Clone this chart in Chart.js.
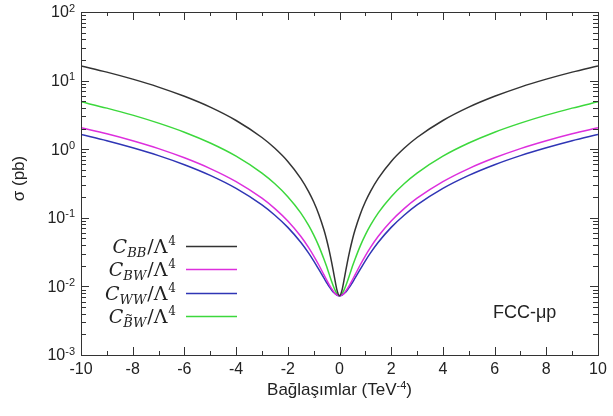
<!DOCTYPE html>
<html>
<head>
<meta charset="utf-8">
<script src="https://cdn.jsdelivr.net/npm/chart.js@4/dist/chart.umd.min.js"></script>
<style>
  html, body { margin: 0; padding: 0; background: #fff; }
  #wrap { width: 613px; height: 416px; position: relative; }
</style>
</head>
<body>
<div id="wrap"><canvas id="cv"></canvas></div>
<script>
'use strict';

// coupling values (TeV^-4)
const XS = [-10,-9,-8,-7,-6,-5,-4,-3,-2.5,-2,-1.5,-1.2,-1,-0.8,-0.6,-0.5,-0.4,-0.3,-0.2,-0.1,
  0,
  0.1,0.2,0.3,0.4,0.5,0.6,0.8,1,1.2,1.5,2,2.5,3,4,5,6,7,8,9,10];

// cross sections (pb)
const C_BB  = [16.4,13.3,10.5,8.04,5.90,4.10,2.62,1.48,1.03,0.663,0.376,0.243,0.171,0.112,0.0663,0.0483,0.0335,0.0221,0.0139,0.0089,
  0.0073,
  0.0089,0.0139,0.0221,0.0335,0.0483,0.0663,0.112,0.171,0.243,0.376,0.663,1.03,1.48,2.62,4.10,5.90,8.04,10.5,13.3,16.4];
const C_BW  = [2.06,1.68,1.33,1.02,0.749,0.522,0.337,0.193,0.136,0.0897,0.0537,0.0370,0.0279,0.0205,0.0147,0.0125,0.0106,0.0092,0.0081,0.0075,
  0.0073,
  0.0075,0.0081,0.0092,0.0106,0.0125,0.0147,0.0205,0.0279,0.0370,0.0537,0.0897,0.136,0.193,0.337,0.522,0.749,1.02,1.33,1.68,2.06];
const C_WW  = [1.64,1.33,1.05,0.806,0.594,0.415,0.268,0.154,0.109,0.0725,0.0440,0.0308,0.0236,0.0177,0.0132,0.0114,0.0099,0.0088,0.0080,0.0075,
  0.0073,
  0.0075,0.0080,0.0088,0.0099,0.0114,0.0132,0.0177,0.0236,0.0308,0.0440,0.0725,0.109,0.154,0.268,0.415,0.594,0.806,1.05,1.33,1.64];
const C_BtW = [4.90,3.97,3.14,2.40,1.77,1.23,0.791,0.448,0.313,0.203,0.118,0.0779,0.0563,0.0387,0.0249,0.0196,0.0151,0.0117,0.0093,0.0078,
  0.0073,
  0.0078,0.0093,0.0117,0.0151,0.0196,0.0249,0.0387,0.0563,0.0779,0.118,0.203,0.313,0.448,0.791,1.23,1.77,2.40,3.14,3.97,4.90];

const X_TICKS = [-10,-8,-6,-4,-2,0,2,4,6,8,10];
const X_MINOR = [-9,-7,-5,-3,-1,1,3,5,7,9];
const Y_DECADES = [-3,-2,-1,0,1,2];

const SERIES = [
  { sub: 'BB', tilde: false, data: C_BB,  color: '#333333' },
  { sub: 'BW', tilde: false, data: C_BW,  color: '#dd2fdd' },
  { sub: 'WW', tilde: false, data: C_WW,  color: '#2f35b5' },
  { sub: 'BW', tilde: true,  data: C_BtW, color: '#3cd83c' },
];

const SANS = '"Liberation Sans", Arial, sans-serif';
const SERIF = '"DejaVu Serif", "Liberation Serif", serif';

/* ── frame, ticks, labels, legend ───────────────── */
const framePlugin = {
  id: 'frame',
  afterDraw(chart) {
    const { ctx, chartArea: a, scales: { x, y } } = chart;
    ctx.save();
    ctx.strokeStyle = '#333';
    ctx.lineWidth = 1;
    ctx.strokeRect(a.left + 0.5, a.top + 0.5, a.right - a.left, a.bottom - a.top);

    ctx.beginPath();
    const xt = (v, len) => {
      const px = Math.round(x.getPixelForValue(v)) + 0.5;
      ctx.moveTo(px, a.bottom); ctx.lineTo(px, a.bottom - len);
      ctx.moveTo(px, a.top);    ctx.lineTo(px, a.top + len);
    };
    X_TICKS.forEach(v => xt(v, 8));
    X_MINOR.forEach(v => xt(v, 4));
    const yt = (v, len) => {
      const py = Math.round(y.getPixelForValue(v)) + 0.5;
      ctx.moveTo(a.left, py);  ctx.lineTo(a.left + len, py);
      ctx.moveTo(a.right, py); ctx.lineTo(a.right - len, py);
    };
    Y_DECADES.forEach(d => {
      yt(Math.pow(10, d), 8);
      if (d < 2) for (let m = 2; m <= 9; m++) yt(m * Math.pow(10, d), 5);
    });
    ctx.stroke();

    // x tick labels
    ctx.fillStyle = '#222';
    ctx.font = '16px ' + SANS;
    ctx.textAlign = 'center';
    ctx.textBaseline = 'top';
    X_TICKS.forEach(v => ctx.fillText(String(v), x.getPixelForValue(v), a.bottom + 7));

    // y tick labels 10^n
    Y_DECADES.forEach(d => {
      const py = y.getPixelForValue(Math.pow(10, d));
      const exp = String(d);
      ctx.font = '11px ' + SANS;
      const we = ctx.measureText(exp).width;
      ctx.font = '16px ' + SANS;
      const wb = ctx.measureText('10').width;
      const right = a.left - 6;
      ctx.textAlign = 'left';
      ctx.textBaseline = 'middle';
      ctx.fillText('10', right - we - wb, py + 1);
      ctx.font = '11px ' + SANS;
      ctx.textBaseline = 'top';
      ctx.fillText(exp, right - we, py - 9);
    });

    // axis titles
    ctx.font = '17px ' + SANS;
    ctx.textAlign = 'center';
    ctx.textBaseline = 'middle';
    ctx.save();
    ctx.translate(19, (a.top + a.bottom) / 2 - 5);
    ctx.rotate(-Math.PI / 2);
    ctx.fillText('σ (pb)', 0, 0);
    ctx.restore();

    const t1 = 'Bağlaşımlar (TeV', t2 = '-4', t3 = ')';
    ctx.font = '17px ' + SANS;
    const w1 = ctx.measureText(t1).width, w3 = ctx.measureText(t3).width;
    ctx.font = '11px ' + SANS;
    const w2 = ctx.measureText(t2).width;
    let tx = (a.left + a.right) / 2 - (w1 + w2 + w3) / 2;
    const ty = 395;
    ctx.textAlign = 'left';
    ctx.textBaseline = 'alphabetic';
    ctx.font = '17px ' + SANS;
    ctx.fillText(t1, tx, ty); tx += w1;
    ctx.font = '11px ' + SANS;
    ctx.fillText(t2, tx, ty - 6); tx += w2;
    ctx.font = '17px ' + SANS;
    ctx.fillText(t3, tx, ty);

    // label
    ctx.font = '18px ' + SANS;
    ctx.textBaseline = 'middle';
    ctx.fillText('FCC-μp', 493, 313);

    // legend
    const rows = [246, 269, 293, 316];
    SERIES.forEach((s, i) => {
      const ry = rows[i];
      ctx.strokeStyle = s.color;
      ctx.lineWidth = 1.5;
      ctx.beginPath();
      ctx.moveTo(186, ry + 0.5); ctx.lineTo(237, ry + 0.5);
      ctx.stroke();
      drawMath(ctx, 176, ry, s.sub, s.tilde);
    });
    ctx.restore();
  }
};

function drawMath(ctx, right, y, sub, tilde) {
  const big = 'italic 19px ' + SERIF, small = 'italic 13px ' + SERIF;
  const up = '19px ' + SERIF, sup = '12px ' + SERIF;
  ctx.font = big;  const wC = ctx.measureText('C').width;
  ctx.font = small; const wS = ctx.measureText(sub).width; const wB = ctx.measureText('B').width;
  ctx.font = up;   const wL = ctx.measureText('/Λ').width + 1;
  ctx.font = sup;  const w4 = ctx.measureText('4').width;
  let x = right - (wC + wS + wL + w4 + 1);
  ctx.fillStyle = '#222';
  ctx.textAlign = 'left';
  ctx.textBaseline = 'alphabetic';
  ctx.font = big;   ctx.fillText('C', x, y + 7); x += wC;
  ctx.font = small; ctx.fillText(sub, x, y + 11);
  if (tilde) {
    ctx.font = '9px ' + SERIF;
    ctx.textAlign = 'center';
    ctx.fillText('~', x + wB / 2 + 1, y + 2);
    ctx.textAlign = 'left';
  }
  x += wS + 1;
  ctx.font = up;  ctx.fillText('/Λ', x, y + 7); x += wL;
  ctx.font = sup; ctx.fillText('4', x, y - 1);
}

new Chart(document.getElementById('cv'), {
  type: 'line',
  data: {
    datasets: SERIES.map(s => ({
      data: XS.map((v, i) => ({ x: v, y: s.data[i] })),
      borderColor: s.color,
      borderWidth: 1.5,
      pointRadius: 0,
      fill: false,
      cubicInterpolationMode: 'monotone',
    })),
  },
  options: {
    responsive: true,
    maintainAspectRatio: false,
    animation: false,
    layout: { padding: { left: 81, right: 15, top: 12, bottom: 61 } },
    plugins: { legend: { display: false }, tooltip: { enabled: false } },
    scales: {
      x: { type: 'linear', min: -10, max: 10, display: false },
      y: { type: 'logarithmic', min: 0.001, max: 100, display: false },
    },
  },
  plugins: [framePlugin],
});
</script>
</body>
</html>
